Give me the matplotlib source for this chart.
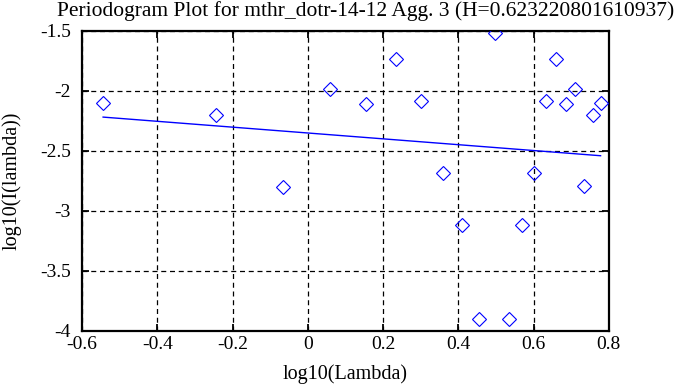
import numpy as np
import matplotlib
matplotlib.use("Agg")
import matplotlib.pyplot as plt

plt.rcParams['font.family'] = ['Liberation Serif', 'DejaVu Serif']

# log10 of frequency and log10 of periodogram
log_lambda = [-0.544, -0.243, -0.067, 0.058, 0.155, 0.234, 0.301, 0.359,
              0.410, 0.456, 0.497, 0.535, 0.570, 0.602, 0.632, 0.660,
              0.686, 0.711, 0.735, 0.757, 0.778]
log_I = [-2.10, -2.20, -2.80, -1.98, -2.11, -1.73, -2.08, -2.68,
         -3.12, -3.90, -1.52, -3.90, -3.12, -2.68, -2.08, -1.73,
         -2.11, -1.98, -2.79, -2.20, -2.10]

# fitted line end points
fit_x = [-0.544, 0.778]
fit_y = [-2.218, -2.540]

title = "Periodogram Plot for mthr_dotr-14-12 Agg. 3 (H=0.623220801610937)"
xticks = [-0.6, -0.4, -0.2, 0, 0.2, 0.4, 0.6, 0.8]
xtick_labels = ["-0.6", "-0.4", "-0.2", "0", "0.2", "0.4", "0.6", "0.8"]
yticks = [-4, -3.5, -3, -2.5, -2, -1.5]
ytick_labels = ["-4", "-3.5", "-3", "-2.5", "-2", "-1.5"]

fig = plt.figure(figsize=(6.78, 3.87), dpi=100)
ax = fig.add_axes([0.121, 0.145, 0.777, 0.775])

ax.plot(log_lambda, log_I, linestyle='none', marker='D', markersize=7.1,
        markerfacecolor='none', markeredgecolor='#0000ff', markeredgewidth=0.8,
        zorder=3)
ax.plot(fit_x, fit_y, color='#0000ff', linewidth=1.0, zorder=3)

ax.set_xlim(-0.6, 0.8)
ax.set_ylim(-4, -1.5)
ax.set_xticks(xticks)
ax.set_xticklabels(xtick_labels)
ax.set_yticks(yticks)
ax.set_yticklabels(ytick_labels)

ax.grid(True, color='black', linestyle=(0, (4, 3)), linewidth=0.9)
ax.tick_params(direction='in', length=5, width=1.3, top=True, right=True,
               labelsize=14, colors='black')
ax.tick_params(axis='x', pad=4)
ax.tick_params(axis='y', pad=8)
for s in ax.spines.values():
    s.set_linewidth(1.6)
    s.set_color('black')

fig.text(0.54, 0.997, title, fontsize=15.5, ha='center', va='top')
ax.set_xlabel("log10(Lambda)", fontsize=14.5, labelpad=8)
ax.set_ylabel("log10(I(lambda))", fontsize=14.5, labelpad=13)

fig.savefig("out.png", dpi=100)
